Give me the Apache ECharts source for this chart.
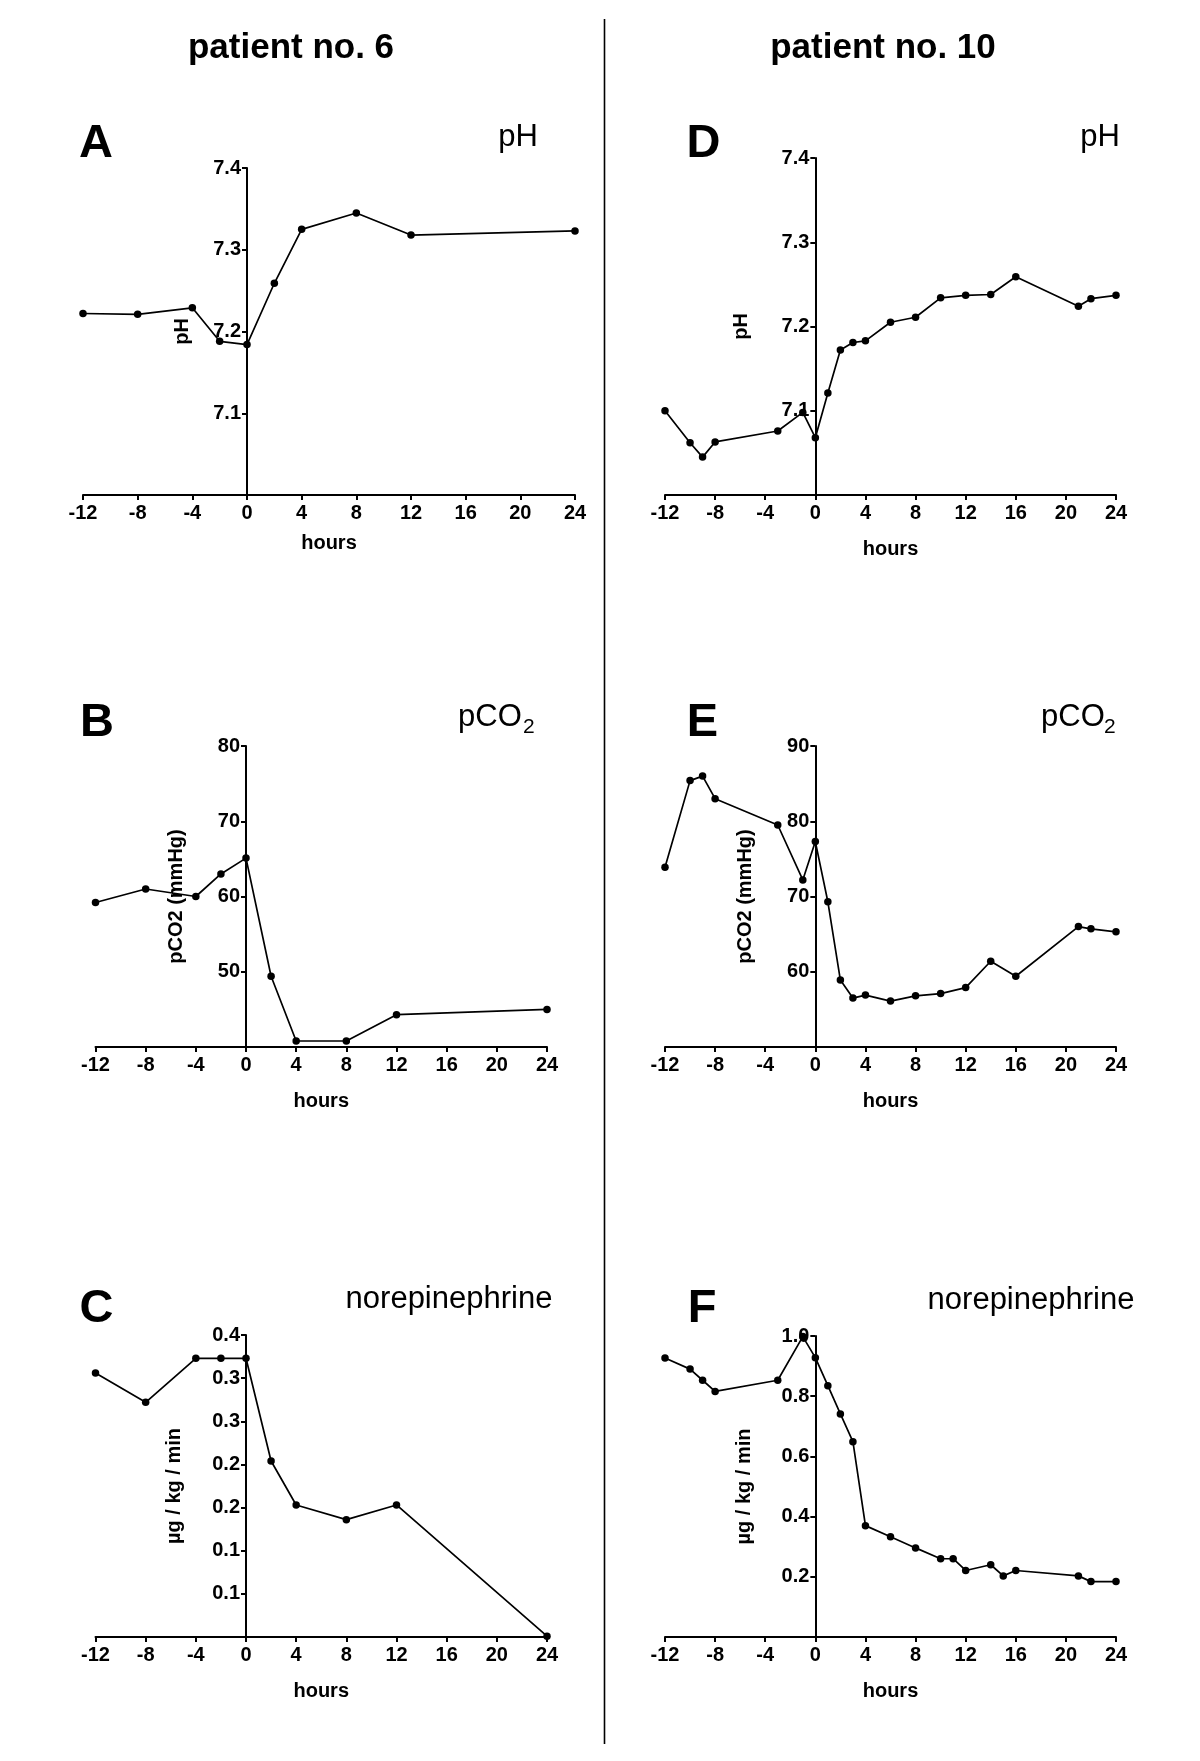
<!DOCTYPE html>
<html>
<head>
<meta charset="utf-8">
<script src="https://cdn.jsdelivr.net/npm/echarts@6/dist/echarts.min.js"></script>
<style>
html,body{margin:0;padding:0;background:#fff;}
#chart{width:1200px;height:1761px;}
</style>
</head>
<body>
<div id="chart"></div>
<script>
// ---------- DATA ----------
var hoursA = [-12, -8, -4, -2, 0, 2, 4, 8, 12, 24];
var phA = [7.222, 7.221, 7.229, 7.188, 7.184, 7.259, 7.325, 7.345, 7.318, 7.323];

var hoursB = [-12, -8, -4, -2, 0, 2, 4, 8, 12, 24];
var pco2B = [59.2, 61.0, 60.0, 63.0, 65.1, 49.4, 40.8, 40.8, 44.3, 45.0];

var hoursC = [-12, -8, -4, -2, 0, 2, 4, 8, 12, 24];
var neC = [0.356, 0.322, 0.373, 0.373, 0.373, 0.254, 0.203, 0.186, 0.203, 0.051];

var hoursD = [-12, -10, -9, -8, -3, -1, 0, 1, 2, 3, 4, 6, 8, 10, 12, 14, 16, 21, 22, 24];
var phD = [7.100, 7.062, 7.045, 7.063, 7.076, 7.098, 7.068, 7.121, 7.172, 7.181, 7.183, 7.205, 7.211, 7.234, 7.237, 7.238, 7.259, 7.224, 7.233, 7.237];

var hoursE = [-12, -10, -9, -8, -3, -1, 0, 1, 2, 3, 4, 6, 8, 10, 12, 14, 16, 21, 22, 24];
var pco2E = [73.9, 85.4, 86.0, 83.0, 79.5, 72.2, 77.3, 69.3, 58.9, 56.5, 56.9, 56.1, 56.8, 57.1, 57.9, 61.4, 59.4, 66.0, 65.7, 65.3];

var hoursF = [-12, -10, -9, -8, -3, -1, 0, 1, 2, 3, 4, 6, 8, 10, 11, 12, 14, 15, 16, 21, 22, 24];
var neF = [0.927, 0.890, 0.853, 0.816, 0.853, 0.998, 0.928, 0.835, 0.741, 0.649, 0.370, 0.333, 0.296, 0.260, 0.260, 0.221, 0.240, 0.203, 0.221, 0.203, 0.184, 0.184];

// tick labels
var xTickValues = [-12, -8, -4, 0, 4, 8, 12, 16, 20, 24];
var xTickLabels = ['-12', '-8', '-4', '0', '4', '8', '12', '16', '20', '24'];
var phTickValues = [7.1, 7.2, 7.3, 7.4];
var phTickLabels = ['7.1', '7.2', '7.3', '7.4'];
var pco2BTickValues = [50, 60, 70, 80];
var pco2BTickLabels = ['50', '60', '70', '80'];
var pco2ETickValues = [60, 70, 80, 90];
var pco2ETickLabels = ['60', '70', '80', '90'];
var neCTickValues = [0.10, 0.15, 0.20, 0.25, 0.30, 0.35, 0.40];
var neCTickLabels = ['0.1', '0.1', '0.2', '0.2', '0.3', '0.3', '0.4'];
var neFTickValues = [0.2, 0.4, 0.6, 0.8, 1.0];
var neFTickLabels = ['0.2', '0.4', '0.6', '0.8', '1.0'];

var headers = ['patient no. 6', 'patient no. 10'];
var panelLetters = ['A', 'B', 'C', 'D', 'E', 'F'];

// ---------- BUILD ----------
var FONT = '"Liberation Sans", Arial, Helvetica, sans-serif';
var X_MIN = -12, X_MAX = 24;

function makeFmt(vals, labels) {
  return function (v) {
    for (var i = 0; i < vals.length; i++) {
      if (Math.abs(v - vals[i]) < 1e-6) return labels[i];
    }
    return '';
  };
}

var grids = [
  {left: 83, top: 168, width: 492, height: 327},    // A
  {left: 95.5, top: 746, width: 451.5, height: 301}, // B
  {left: 95.5, top: 1335, width: 451.5, height: 302},// C
  {left: 665, top: 158, width: 451, height: 337},   // D
  {left: 665, top: 746, width: 451, height: 301},   // E
  {left: 665, top: 1336, width: 451, height: 301}   // F
];

var yConf = [
  {min: 7.0, max: 7.4, interval: 0.1, vals: phTickValues, labels: phTickLabels, name: 'pH', gap: 55},
  {min: 40, max: 80, interval: 10, vals: pco2BTickValues, labels: pco2BTickLabels, name: 'pCO2 (mmHg)', gap: 60},
  {min: 0.05, max: 0.4, interval: 0.05, vals: neCTickValues, labels: neCTickLabels, name: 'µg / kg / min', gap: 62},
  {min: 7.0, max: 7.4, interval: 0.1, vals: phTickValues, labels: phTickLabels, name: 'pH', gap: 64},
  {min: 50, max: 90, interval: 10, vals: pco2ETickValues, labels: pco2ETickLabels, name: 'pCO2 (mmHg)', gap: 60},
  {min: 0, max: 1.0, interval: 0.2, vals: neFTickValues, labels: neFTickLabels, name: 'µg / kg / min', gap: 61}
];
var xGaps = [38, 44, 44, 44, 44, 44];

var seriesData = [
  [hoursA, phA], [hoursB, pco2B], [hoursC, neC],
  [hoursD, phD], [hoursE, pco2E], [hoursF, neF]
];

var axisLineStyle = {color: '#000', width: 2};
var nameStyle = {color: '#000', fontWeight: 'bold', fontSize: 20, fontFamily: FONT};

var xAxes = [], yAxes = [], series = [];
for (var i = 0; i < 6; i++) {
  xAxes.push({
    type: 'value', gridIndex: i, min: X_MIN, max: X_MAX, interval: 4,
    name: 'hours', nameLocation: 'middle', nameGap: xGaps[i], nameTextStyle: nameStyle,
    axisLine: {show: true, onZero: false, lineStyle: axisLineStyle},
    axisTick: {show: true, length: 5, lineStyle: {color: '#000', width: 2}},
    axisLabel: {color: '#000', fontWeight: 'bold', fontSize: 20, fontFamily: FONT, margin: 8,
      formatter: makeFmt(xTickValues, xTickLabels)},
    splitLine: {show: false}
  });
  var yc = yConf[i];
  // y axis drawn where hours = 0 (shifted inward from the grid's left edge)
  var zeroShift = grids[i].width * (0 - X_MIN) / (X_MAX - X_MIN);
  yAxes.push({
    type: 'value', gridIndex: i, min: yc.min, max: yc.max, interval: yc.interval,
    offset: -zeroShift,
    name: yc.name, nameLocation: 'middle', nameGap: yc.gap, nameTextStyle: nameStyle,
    axisLine: {show: true, onZero: false, lineStyle: axisLineStyle},
    axisTick: {show: true, length: 5, lineStyle: {color: '#000', width: 2}},
    axisLabel: {color: '#000', fontWeight: 'bold', fontSize: 20, fontFamily: FONT, margin: 6,
      formatter: makeFmt(yc.vals, yc.labels)},
    splitLine: {show: false}
  });
  var hs = seriesData[i][0], vs = seriesData[i][1];
  series.push({
    type: 'line', xAxisIndex: i, yAxisIndex: i,
    data: hs.map(function (h, k) { return [h, vs[k]]; }),
    symbol: 'circle', symbolSize: 7.5, clip: false,
    lineStyle: {color: '#000', width: 1.7},
    itemStyle: {color: '#000'},
    animation: false
  });
}

function txt(x, y, s, size, weight, align) {
  return {type: 'text', x: x, y: y, silent: true,
    style: {text: s, fill: '#000', fontSize: size, fontWeight: weight || 'normal',
      fontFamily: FONT, align: align || 'center', verticalAlign: 'middle'}};
}

var graphics = [
  {type: 'line', shape: {x1: 604.5, y1: 19, x2: 604.5, y2: 1744}, style: {stroke: '#000', lineWidth: 1.6}, silent: true},
  txt(291, 48, headers[0], 35, 'bold'),
  txt(883, 48, headers[1], 35, 'bold'),
  txt(96, 144, panelLetters[0], 47, 'bold'),
  txt(97, 723, panelLetters[1], 47, 'bold'),
  txt(96.5, 1309, panelLetters[2], 47, 'bold'),
  txt(703.5, 144, panelLetters[3], 47, 'bold'),
  txt(702.5, 723, panelLetters[4], 47, 'bold'),
  txt(702, 1309, panelLetters[5], 47, 'bold'),
  txt(518, 137, 'pH', 31),
  txt(1100, 137, 'pH', 31),
  txt(458, 717, 'pCO', 31, 'normal', 'left'),
  txt(523, 727, '2', 21, 'normal', 'left'),
  txt(1041, 717, 'pCO', 31, 'normal', 'left'),
  txt(1104, 727, '2', 21, 'normal', 'left'),
  txt(449, 1299, 'norepinephrine', 31),
  txt(1031, 1300, 'norepinephrine', 31)
];

var chart = echarts.init(document.getElementById('chart'), null, {renderer: 'canvas', width: 1200, height: 1761});
chart.setOption({
  backgroundColor: '#fff',
  animation: false,
  grid: grids,
  xAxis: xAxes,
  yAxis: yAxes,
  series: series,
  graphic: graphics
});
</script>
</body>
</html>
